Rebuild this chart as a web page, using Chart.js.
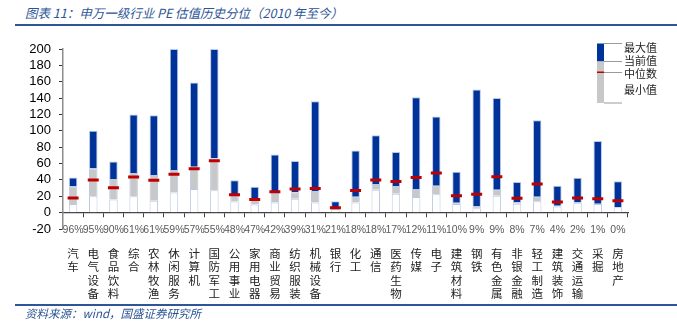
<!DOCTYPE html>
<html>
<head>
<meta charset="utf-8">
<script src="https://cdn.jsdelivr.net/npm/chart.js@4.4.1/dist/chart.umd.min.js"></script>
<style>
  html, body { margin: 0; padding: 0; background: #fff; }
  #wrap { position: relative; width: 677px; height: 334px; }
  #chart-pe { position: absolute; left: 0; top: 0; }
  .title { position: absolute; left: 25px; top: 3px; font: italic 12.5px "Noto Sans CJK SC", sans-serif; color: #2d5596; white-space: nowrap; }
  .rule { position: absolute; left: 15px; width: 662px; height: 2px; background: #2f5597; }
  .source { position: absolute; left: 25px; top: 305px; font: italic 11.5px "Noto Sans CJK SC", sans-serif; color: #2d5596; white-space: nowrap; }
</style>
</head>
<body>
<div id="wrap">
  <div class="title">图表 11：申万一级行业 PE 估值历史分位（2010 年至今）</div>
  <div class="rule" style="top:24px"></div>
  <canvas id="chart-pe" width="677" height="334"></canvas>
  <div class="rule" style="top:304px"></div>
  <div class="source">资料来源：wind，国盛证券研究所</div>
</div>
<script>
var categories = ['汽车', '电气设备', '食品饮料', '综合', '农林牧渔', '休闲服务', '计算机', '国防军工', '公用事业', '家用电器',
    '商业贸易', '纺织服装', '机械设备', '银行', '化工', '通信', '医药生物', '传媒', '电子', '建筑材料',
    '钢铁', '有色金属', '非银金融', '轻工制造', '建筑装饰', '交通运输', '采掘', '房地产'];
var percentiles = ['96%', '95%', '90%', '61%', '61%', '59%', '57%', '55%', '48%', '47%',
    '42%', '39%', '31%', '21%', '18%', '18%', '17%', '12%', '11%', '10%',
    '9%', '9%', '8%', '7%', '4%', '2%', '1%', '0%'];
var maxVals = [43, 100, 62.5, 120, 119, 200, 159, 200, 39.5, 31.5,
    71, 63, 136, 14, 76, 94.5, 74, 141, 117.5, 50,
    150.5, 140, 37.5, 113, 33, 42.5, 87.5, 38.5];
var curVals = [32, 54, 41, 48.5, 46, 52, 56, 66.5, 22.5, 16.5,
    24, 25, 26.5, 5.5, 19.5, 35, 32.5, 29, 33, 12,
    7.5, 28, 13, 19.5, 8.5, 12.5, 11, 6.5];
var medVals = [18, 40, 30.5, 43.5, 39.5, 47, 53.5, 63.5, 22, 16,
    25.5, 29, 29.5, 6, 27, 40, 38, 43, 48.5, 20.5,
    22.5, 44, 17.5, 35, 13, 18, 17, 14.5];
var minVals = [10.5, 20, 16, 20, 14.5, 24.5, 29, 27.5, 13.5, 10,
    12.5, 17, 12.5, 4.5, 12.5, 28, 23, 19, 22.5, 10.5,
    5.5, 20.5, 11, 14, 7.5, 12, 10.5, 6.5];
var yTicks = [-20, 0, 20, 40, 60, 80, 100, 120, 140, 160, 180, 200];

var BLUE = '#003399', GREY = '#c8c8c8', RED = '#c00000', EDGE = '#b9c9e6';

var legendPlugin = {
    id: 'rangeLegend',
    afterDraw: function (chart) {
        var c = chart.ctx;
        c.save();
        c.fillStyle = BLUE;
        c.fillRect(597, 43.5, 7, 18);
        c.fillStyle = GREY;
        c.fillRect(597, 61.5, 7, 41.5);
        c.fillStyle = RED;
        c.fillRect(597, 71.5, 7, 1.5);
        c.strokeStyle = '#9a9a9a';
        c.lineWidth = 1;
        [43.5, 61.5, 72.5, 103].forEach(function (y) {
            c.beginPath();
            c.moveTo(604, y);
            c.lineTo(622, y);
            c.stroke();
        });
        c.fillStyle = '#222';
        c.font = '11px "Noto Sans CJK SC", sans-serif';
        c.textBaseline = 'middle';
        c.fillText('最大值', 624, 47.5);
        c.fillText('当前值', 624, 60.5);
        c.fillText('中位数', 624, 73.5);
        c.fillText('最小值', 624, 90);
        c.restore();
    }
};

function barSet(label, data, color) {
    return {
        label: label,
        data: data,
        backgroundColor: color,
        borderColor: EDGE,
        borderWidth: 1,
        borderSkipped: 'bottom',
        grouped: false,
        categoryPercentage: 1,
        barPercentage: 0.42,
        order: 1
    };
}

var ctx = document.getElementById('chart-pe');
new Chart(ctx, {
    type: 'bar',
    data: {
        labels: categories,
        datasets: [
            {
                type: 'line',
                label: '中位数',
                data: medVals,
                showLine: false,
                pointStyle: 'line',
                pointRadius: 5.5,
                pointBorderWidth: 3,
                pointBorderColor: RED,
                pointBackgroundColor: RED,
                order: 0
            },
            barSet('最小值', minVals.map(function (v) { return [0, v]; }), '#ffffff'),
            barSet('当前值', minVals.map(function (v, i) { return [v, curVals[i]]; }), GREY),
            barSet('最大值', curVals.map(function (v, i) { return [v, maxVals[i]]; }), BLUE)
        ]
    },
    options: {
        responsive: false,
        animation: false,
        layout: { padding: { left: 23, right: 49, top: 49, bottom: 0 } },
        plugins: { legend: { display: false }, tooltip: { enabled: false } },
        scales: {
            x: {
                type: 'category',
                position: { y: 0 },
                offset: true,
                grid: { drawOnChartArea: false, offset: true, tickLength: 4, color: '#404040' },
                border: { color: '#404040', width: 1.3 },
                ticks: { display: false }
            },
            xPct: {
                type: 'category',
                labels: percentiles,
                position: 'bottom',
                weight: 1,
                offset: true,
                grid: { display: false, drawTicks: false },
                border: { display: false },
                ticks: { autoSkip: false, maxRotation: 0, mirror: true, padding: -7, color: '#595959',
                    font: { family: '"Liberation Sans", Arial, sans-serif', size: 10.5 } },
                afterFit: function (s) { s.height = 12; }
            },
            xName: {
                type: 'category',
                labels: categories.map(function (s) { return s.split(''); }),
                position: 'bottom',
                weight: 2,
                offset: true,
                grid: { display: false, drawTicks: false },
                border: { display: false },
                ticks: { autoSkip: false, maxRotation: 0, padding: 6, color: '#222',
                    font: { family: '"Noto Sans CJK SC", sans-serif', size: 11.5, lineHeight: '13.3px' } },
                afterFit: function (s) { s.height = 93; }
            },
            y: {
                min: -20,
                max: 200,
                afterBuildTicks: function (s) { s.ticks = yTicks.map(function (v) { return { value: v }; }); },
                grid: { drawOnChartArea: false, tickLength: 4, color: '#333' },
                border: { color: '#8c8c8c', width: 1.5 },
                ticks: { autoSkip: false, padding: 8, color: '#000', font: { family: '"Liberation Sans", Arial, sans-serif', size: 13 } },
                afterFit: function (s) { s.width = 40; }
            }
        }
    },
    plugins: [legendPlugin]
});
</script>
</body>
</html>
